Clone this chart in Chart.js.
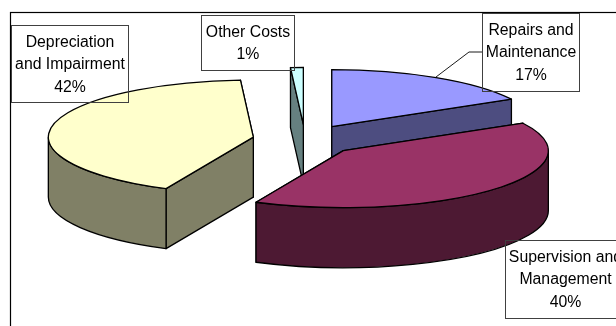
<!DOCTYPE html>
<html>
<head>
<meta charset="utf-8">
<title>Cost breakdown</title>
<script src="https://cdn.jsdelivr.net/npm/chart.js@4"></script>
<style>
    html, body { margin: 0; padding: 0; background: #fff; overflow: hidden; }
    canvas { display: block; }
</style>
</head>
<body>
<canvas id="graficoCustos" width="616" height="326"></canvas>
<script>
// Dados
const categories = [
    ['Repairs and', 'Maintenance'],
    ['Supervision and', 'Management'],
    ['Depreciation', 'and Impairment'],
    ['Other Costs']
];
const values = [17, 40, 42, 1];
const topColors = ['#9999ff', '#993366', '#ffffcc', '#ccffff'];
const sideColors = ['#4d4d80', '#4d1933', '#808066', '#668080'];

// Aparência do "3D" e das caixas de rótulo
const tilt = 0.278;
const depth = 60;
const explodeX = 52.6;
const explodeY = 15.6;
const drawOrder = [3, 0, 2, 1];
const labelBoxes = [
    { x: 482.5, y: 13.5, w: 97, h: 78 },
    { x: 505.5, y: 240.5, w: 120, h: 78 },
    { x: 11.5, y: 25.5, w: 117, h: 77 },
    { x: 201.5, y: 15.5, w: 93, h: 55 }
];

function sliceOrigin(arc) {
    const mid = (arc.startAngle + arc.endAngle) / 2;
    return {
        x: arc.x + explodeX * Math.cos(mid),
        y: arc.y + explodeY * Math.sin(mid)
    };
}

function outline(ctx) {
    ctx.strokeStyle = '#000';
    ctx.lineWidth = 1.3;
    ctx.lineJoin = 'round';
    ctx.stroke();
}

// Face de corte (do centro até a borda, extrudada para baixo)
function drawCutFace(ctx, o, arc, angle, color) {
    const rimX = o.x + arc.outerRadius * Math.cos(angle);
    const rimY = o.y + arc.outerRadius * tilt * Math.sin(angle);
    ctx.beginPath();
    ctx.moveTo(o.x, o.y);
    ctx.lineTo(rimX, rimY);
    ctx.lineTo(rimX, rimY + depth);
    ctx.lineTo(o.x, o.y + depth);
    ctx.closePath();
    ctx.fillStyle = color;
    ctx.fill();
    outline(ctx);
}

// Parede externa, só a metade da frente aparece
function drawRimWall(ctx, o, arc, color) {
    const from = Math.max(arc.startAngle, 0);
    const to = Math.min(arc.endAngle, Math.PI);
    if (from >= to) return;
    const a = arc.outerRadius;
    const b = a * tilt;
    ctx.beginPath();
    ctx.ellipse(o.x, o.y, a, b, 0, from, to);
    ctx.ellipse(o.x, o.y + depth, a, b, 0, to, from, true);
    ctx.closePath();
    ctx.fillStyle = color;
    ctx.fill();
    outline(ctx);
}

function drawTopFace(ctx, o, arc) {
    // a fatia do próprio Chart.js, achatada em elipse
    ctx.save();
    ctx.translate(o.x, o.y);
    ctx.scale(1, tilt);
    ctx.translate(-arc.x, -arc.y);
    arc.draw(ctx);
    ctx.restore();

    ctx.beginPath();
    ctx.moveTo(o.x, o.y);
    ctx.ellipse(o.x, o.y, arc.outerRadius, arc.outerRadius * tilt, 0, arc.startAngle, arc.endAngle);
    ctx.closePath();
    outline(ctx);
}

const pie3d = {
    id: 'pie3d',
    beforeDatasetDraw(chart) {
        const ctx = chart.ctx;
        const arcs = chart.getDatasetMeta(0).data;
        drawOrder.forEach(i => {
            const arc = arcs[i];
            const o = sliceOrigin(arc);
            ctx.save();
            // a face mais ao fundo primeiro, para não riscar a da frente
            [arc.startAngle, arc.endAngle]
                .sort((a, b) => Math.sin(a) - Math.sin(b))
                .forEach(angle => drawCutFace(ctx, o, arc, angle, sideColors[i]));
            drawRimWall(ctx, o, arc, sideColors[i]);
            drawTopFace(ctx, o, arc);
            ctx.restore();
        });
        return false;
    },
    afterDraw(chart) {
        const ctx = chart.ctx;
        ctx.save();

        // moldura do gráfico, cortada pela direita e por baixo
        ctx.strokeStyle = '#000';
        ctx.lineWidth = 1.2;
        ctx.strokeRect(10.5, 12.5, 640, 340);

        // linha de chamada do rótulo Repairs and Maintenance
        ctx.lineWidth = 0.9;
        ctx.beginPath();
        ctx.moveTo(482, 52);
        ctx.lineTo(469, 52);
        ctx.lineTo(436, 77);
        ctx.stroke();

        ctx.font = '15.8px "Liberation Sans", Arial, sans-serif';
        ctx.textAlign = 'center';
        ctx.textBaseline = 'alphabetic';
        const total = values.reduce((a, b) => a + b, 0);
        categories.forEach((lines, i) => {
            const box = labelBoxes[i];
            ctx.strokeStyle = '#404040';
            ctx.lineWidth = 1;
            ctx.strokeRect(box.x, box.y, box.w, box.h);
            ctx.fillStyle = '#000';
            const pct = Math.round(values[i] / total * 100) + '%';
            lines.concat(pct).forEach((text, n) => {
                ctx.fillText(text, box.x + box.w / 2, box.y + 21 + n * 22.7);
            });
        });
        ctx.restore();
    }
};

const chartCustos = new Chart(document.getElementById('graficoCustos'), {
    type: 'pie',
    data: {
        labels: categories,
        datasets: [{
            data: values,
            backgroundColor: topColors,
            borderWidth: 0
        }]
    },
    options: {
        responsive: false,
        animation: false,
        radius: 205,
        layout: { padding: { right: 6, bottom: 46 } },
        events: [],
        plugins: {
            legend: { display: false },
            tooltip: { enabled: false }
        }
    },
    plugins: [pie3d]
});
</script>
</body>
</html>
